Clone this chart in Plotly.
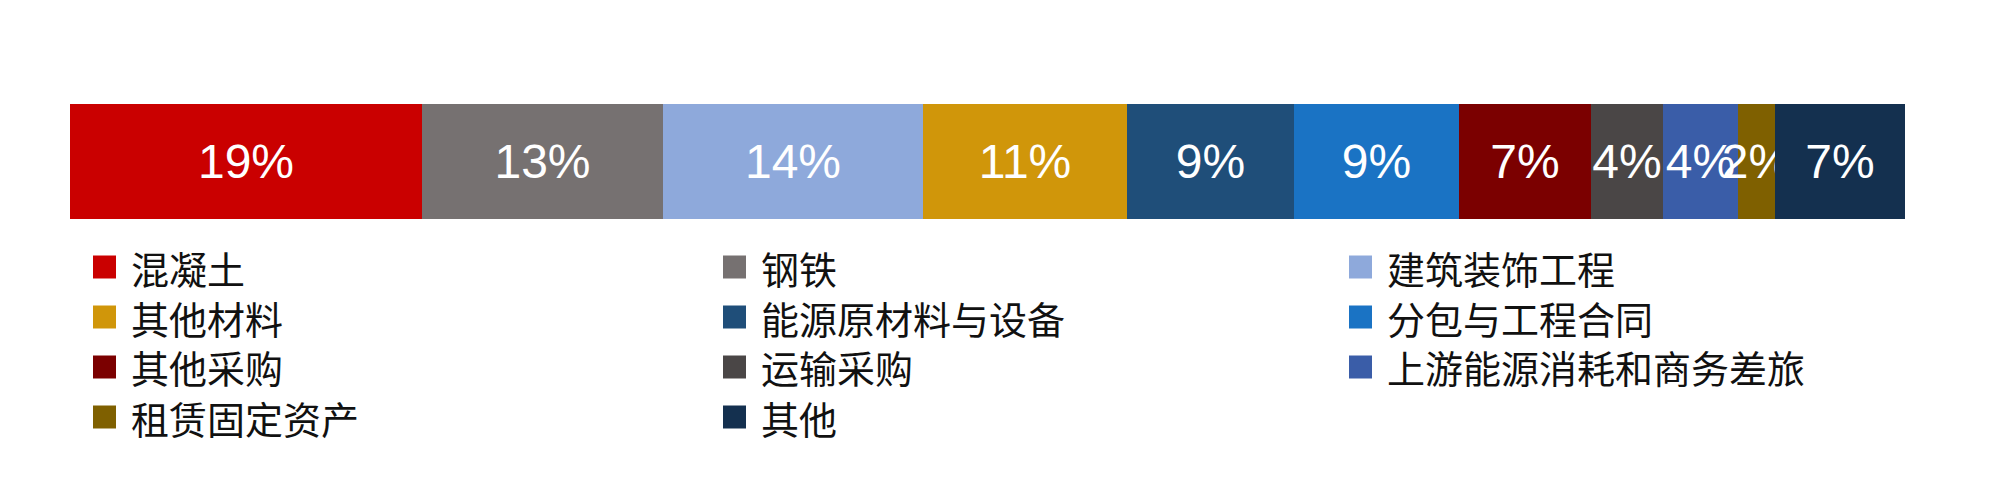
import plotly.graph_objects as go

categories = ["混凝土", "钢铁", "建筑装饰工程", "其他材料", "能源原材料与设备",
              "分包与工程合同", "其他采购", "运输采购", "上游能源消耗和商务差旅",
              "租赁固定资产", "其他"]
shares = [19.2, 13.1, 14.2, 11.1, 9.1, 9.0, 7.2, 3.9, 4.1, 2.0, 7.1]
colors = ["#CA0000", "#767171", "#8EA9DB", "#D0960A", "#1F4E79", "#1A73C4",
          "#7B0000", "#4A4646", "#3A5DA8", "#7F6000", "#14304F"]

W, H = 2000, 499
OFF = 8  # page body margin
L, R, T, B = 70 - OFF, 103, 104 - OFF, 288
PW, PH = W - L - R, H - T - B


def px_x(x):
    return (x - OFF - L) / PW


def px_y(y):
    return (H - B - (y - OFF)) / PH


fig = go.Figure()
for cat, v, c in zip(categories, shares, colors):
    fig.add_trace(go.Bar(
        y=["share"], x=[v], name=cat, orientation="h",
        marker=dict(color=c, line=dict(width=0)),
        texttemplate="%{x:.0f}%", textposition="inside", textangle=0,
        insidetextanchor="middle", constraintext="none",
        textfont=dict(family="Liberation Sans, Arial", size=48, color="white"),
        showlegend=False, hoverinfo="skip",
    ))

# custom legend (3 columns, row-major)
col_x = [93, 723, 1349]
row_y = [267, 317, 367, 417]
sw = 23
for i, (cat, c) in enumerate(zip(categories, colors)):
    r, k = divmod(i, 3)
    x0 = col_x[k]
    yc = row_y[r]
    fig.add_shape(type="rect", xref="paper", yref="paper",
                  x0=px_x(x0), x1=px_x(x0 + sw),
                  y0=px_y(yc + sw / 2), y1=px_y(yc - sw / 2),
                  fillcolor=c, line=dict(width=0))
    fig.add_annotation(xref="paper", yref="paper", x=px_x(x0 + sw + 13),
                       y=px_y(yc), xanchor="left", yanchor="middle",
                       text=cat, showarrow=False,
                       font=dict(family="Noto Sans CJK SC", size=38, color="#111111"))

fig.update_layout(
    width=W, height=H, barmode="stack", bargap=0,
    margin=dict(l=L, r=R, t=T, b=B),
    paper_bgcolor="white", plot_bgcolor="white",
    xaxis=dict(range=[0, sum(shares)], visible=False, fixedrange=True),
    yaxis=dict(range=[-0.5, 0.5], visible=False, fixedrange=True),
)

fig.write_html("out.html")
